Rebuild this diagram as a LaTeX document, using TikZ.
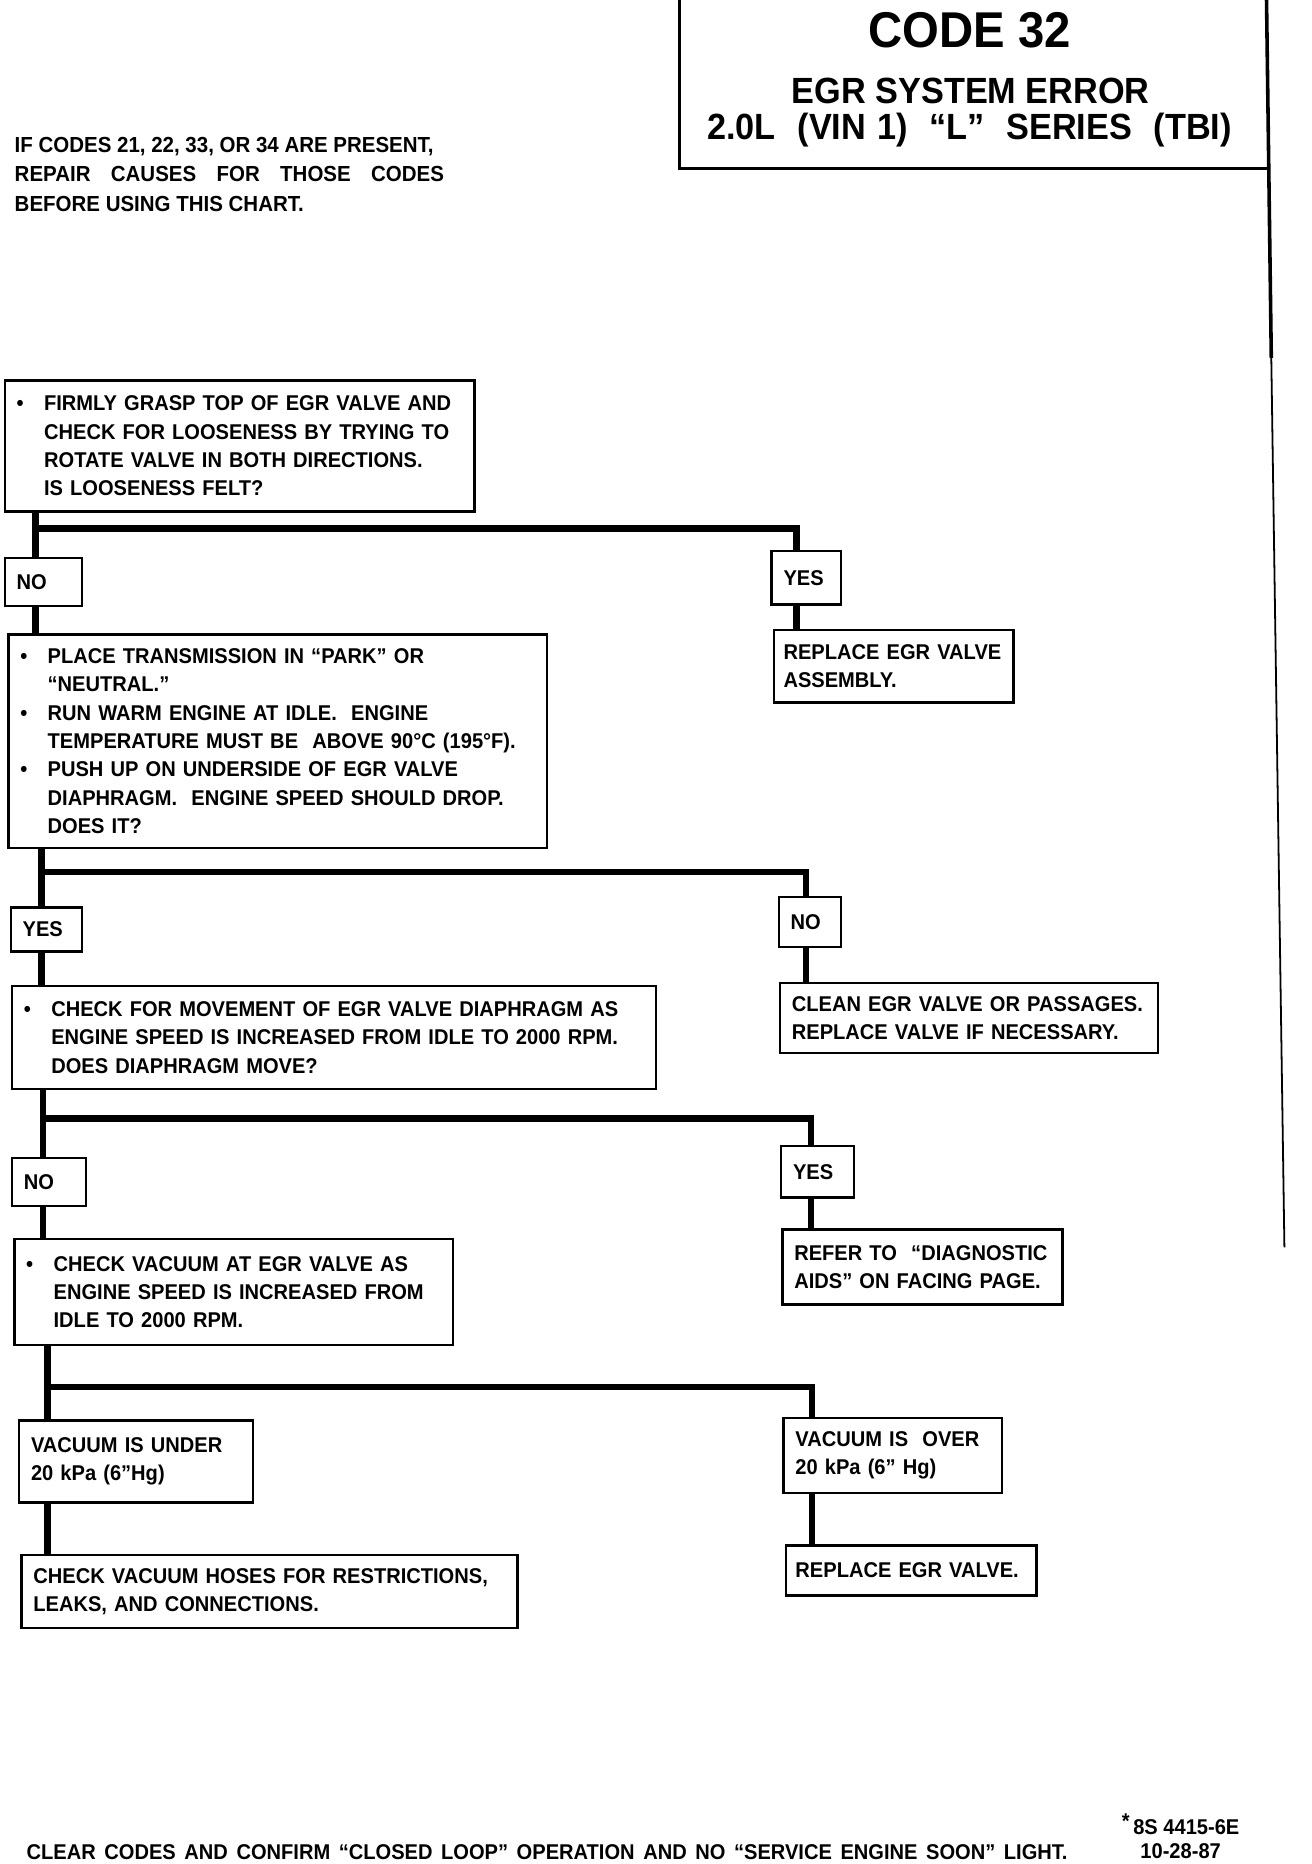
\documentclass[tikz,border=0pt]{standalone}
\usepackage{fontspec}
\setmainfont{Liberation Sans}[FakeStretch=0.94]
\usepackage{tikz}

\newcommand{\chartsize}{\fontsize{10.2pt}{13.5pt}\selectfont}
\newcommand{\bul}{\makebox[0.46cm][l]{\textbullet}}
\newcommand{\ind}{\hspace*{0.46cm}}

\tikzset{
	chartbox/.style={
		draw,
		line width=0.04cm,
		anchor=north west,
		inner xsep=0.2cm,
		inner ysep=0pt,
		align=left,
		font=\bfseries\chartsize
	},
	tight/.style={
		inner xsep=0.16cm
	},
	conn/.style={
		line width=0.11cm
	},
	plaintext/.style={
		inner sep=0pt,
		align=left,
		font=\bfseries\chartsize
	}
}

\begin{document}
\begin{tikzpicture}[x=0.02cm, y=-0.02cm]
	\useasboundingbox (0,0) rectangle (1100,1563);
	% Titelrahmen
	\draw[
		line width=0.05cm
	] (570,0) -- (570,141) -- (1064,141);
	\draw[
		line width=0.06cm
	] (1062,0) -- (1066,300);
	\draw[
		line width=0.03cm
	] (1066,300) -- (1077,1046);
	% Titel
	\node[
		inner sep=0pt,
		font=\bfseries\fontsize{24pt}{28pt}\selectfont
	] (code) at (813,25) {CODE 32};
	\node[
		inner sep=0pt,
		font=\bfseries\fontsize{17.4pt}{20pt}\selectfont
	] (error) at (814,76) {EGR SYSTEM ERROR};
	\node[
		inner sep=0pt,
		font=\bfseries\fontsize{17.4pt}{20pt}\selectfont
	] (engine) at (813,109) {\makebox[8.8cm][s]{2.0L\ \ (VIN 1)\ \ “L”\ \ SERIES\ \ (TBI)}};
	% Hinweis
	\node[
		plaintext,
		anchor=north west,
		font=\bfseries\fontsize{10.4pt}{13.9pt}\selectfont
	] (note) at (12,115) {IF CODES 21, 22, 33, OR 34 ARE PRESENT,\\
		\makebox[7.2cm][s]{REPAIR CAUSES FOR THOSE CODES}\\
		BEFORE USING THIS CHART.};

	% Fragen (links)
	\node[
		chartbox,
		text width=7.48cm,
		minimum height=2.2cm
	] (q1) at (3,318) {\bul FIRMLY GRASP TOP OF EGR VALVE AND\\
		\ind CHECK FOR LOOSENESS BY TRYING TO\\
		\ind ROTATE VALVE IN BOTH DIRECTIONS.\\
		\ind IS LOOSENESS FELT?};
	\node[
		chartbox,
		text width=8.64cm,
		minimum height=3.58cm
	] (q2) at (6,531) {\bul PLACE TRANSMISSION IN “PARK” OR\\
		\ind “NEUTRAL.”\\
		\bul RUN WARM ENGINE AT IDLE.\ \ ENGINE\\
		\ind TEMPERATURE MUST BE\ \ ABOVE 90°C (195°F).\\
		\bul PUSH UP ON UNDERSIDE OF EGR VALVE\\
		\ind DIAPHRAGM.\ \ ENGINE SPEED SHOULD DROP.\\
		\ind DOES IT?};
	\node[
		chartbox,
		text width=10.4cm,
		minimum height=1.72cm
	] (q3) at (9,826) {\bul CHECK FOR MOVEMENT OF EGR VALVE DIAPHRAGM AS\\
		\ind ENGINE SPEED IS INCREASED FROM IDLE TO 2000 RPM.\\
		\ind DOES DIAPHRAGM MOVE?};
	\node[
		chartbox,
		text width=6.96cm,
		minimum height=1.78cm
	] (q4) at (11,1038) {\bul CHECK VACUUM AT EGR VALVE AS\\
		\ind ENGINE SPEED IS INCREASED FROM\\
		\ind IDLE TO 2000 RPM.};
	\node[
		chartbox,
		text width=3.52cm,
		minimum height=1.38cm
	] (under) at (15,1190) {VACUUM IS UNDER\\
		20 kPa (6”Hg)};
	\node[
		chartbox,
		text width=7.92cm,
		minimum height=1.22cm
	] (hoses) at (17,1303) {CHECK VACUUM HOSES FOR RESTRICTIONS,\\
		LEAKS, AND CONNECTIONS.};

	% Antworten (links)
	\node[
		chartbox,
		text width=0.9cm,
		minimum height=0.8cm
	] (no1) at (3,467) {NO};
	\node[
		chartbox,
		text width=0.8cm,
		minimum height=0.74cm
	] (yes2) at (8,760) {YES};
	\node[
		chartbox,
		text width=0.84cm,
		minimum height=0.8cm
	] (no3) at (9,970) {NO};

	% Antworten (rechts)
	\node[
		chartbox,
		text width=0.76cm,
		minimum height=0.9cm
	] (yes1) at (646,461) {YES};
	\node[
		chartbox,
		text width=0.64cm,
		minimum height=0.84cm
	] (no2) at (652,751) {NO};
	\node[
		chartbox,
		text width=0.82cm,
		minimum height=0.86cm
	] (yes3) at (654,960) {YES};
	\node[
		chartbox,
		text width=3.26cm,
		minimum height=1.26cm
	] (over) at (656,1188) {VACUUM IS\ \ OVER\\
		20 kPa (6” Hg)};

	% Massnahmen (rechts)
	\node[
		chartbox,
		tight,
		text width=3.7cm,
		minimum height=1.22cm
	] (rep1) at (648,527) {REPLACE EGR VALVE\\
		ASSEMBLY.};
	\node[
		chartbox,
		text width=5.94cm,
		minimum height=1.18cm
	] (clean) at (653,823) {CLEAN EGR VALVE OR PASSAGES.\\
		REPLACE VALVE IF NECESSARY.};
	\node[
		chartbox,
		text width=4.3cm,
		minimum height=1.26cm
	] (refer) at (655,1030) {REFER TO\ \ “DIAGNOSTIC\\
		AIDS” ON FACING PAGE.};
	\node[
		chartbox,
		tight,
		text width=3.88cm,
		minimum height=0.84cm
	] (repv) at (658,1295) {REPLACE EGR VALVE.};

	% Verzweigungen
	\coordinate (j1) at (30,443);
	\coordinate (k1) at (668,443);
	\coordinate (j2) at (35,731);
	\coordinate (k2) at (676,731);
	\coordinate (j3) at (36,938);
	\coordinate (k3) at (680,938);
	\coordinate (j4) at (40,1163);
	\coordinate (k4) at (681,1163);

	% Stufe 1
	\draw[conn] (q1.south -| j1) -- (no1.north -| j1);
	\draw[conn] (j1) -- (k1) -- (yes1.north -| k1);
	\draw[conn] (yes1.south -| k1) -- (rep1.north -| k1);
	\draw[conn] (no1.south -| j1) -- (q2.north -| j1);
	% Stufe 2
	\draw[conn] (q2.south -| j2) -- (yes2.north -| j2);
	\draw[conn] (j2) -- (k2) -- (no2.north -| k2);
	\draw[conn] (no2.south -| k2) -- (clean.north -| k2);
	\draw[conn] (yes2.south -| j2) -- (q3.north -| j2);
	% Stufe 3
	\draw[conn] (q3.south -| j3) -- (no3.north -| j3);
	\draw[conn] (j3) -- (k3) -- (yes3.north -| k3);
	\draw[conn] (yes3.south -| k3) -- (refer.north -| k3);
	\draw[conn] (no3.south -| j3) -- (q4.north -| j3);
	% Stufe 4
	\draw[conn] (q4.south -| j4) -- (under.north -| j4);
	\draw[conn] (j4) -- (k4) -- (over.north -| k4);
	\draw[conn] (under.south -| j4) -- (hoses.north -| j4);
	\draw[conn] (over.south -| k4) -- (repv.north -| k4);

	% Fusszeile
	\node[
		plaintext,
		anchor=base west
	] (clear) at (22,1559) {\makebox[17.46cm][s]{CLEAR CODES AND CONFIRM “CLOSED LOOP” OPERATION AND NO “SERVICE ENGINE SOON” LIGHT.}};
	\node[
		plaintext,
		anchor=base
	] (dwgno) at (990,1538) {\raisebox{0.5ex}{*}\,8S 4415-6E};
	\node[
		plaintext,
		anchor=base
	] (dwgdate) at (990,1558) {10-28-87};
\end{tikzpicture}
\end{document}
